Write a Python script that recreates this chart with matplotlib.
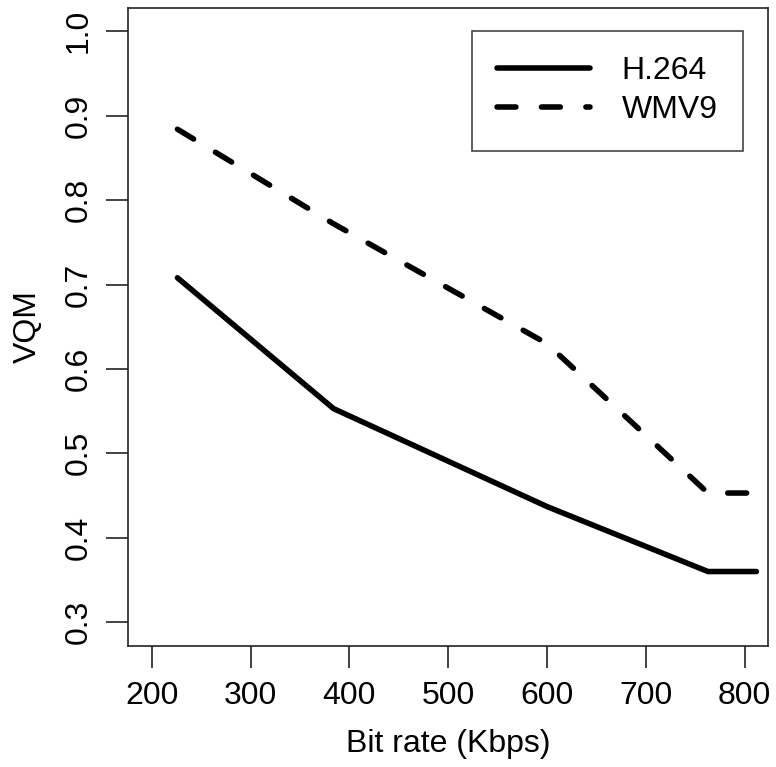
import matplotlib
matplotlib.use("Agg")
import matplotlib.pyplot as plt

# values
rates = [226, 384, 600, 763, 812]
vqm_h264 = [0.708, 0.553, 0.437, 0.360, 0.360]
vqm_wmv9 = [0.884, 0.772, 0.630, 0.453, 0.453]
series_names = ["H.264", "WMV9"]
x_ticks = [200, 300, 400, 500, 600, 700, 800]
y_ticks = [0.3, 0.4, 0.5, 0.6, 0.7, 0.8, 0.9, 1.0]

plt.rcParams["font.family"] = ["Liberation Sans", "DejaVu Sans"]
fs = 23

fig = plt.figure(figsize=(7.76, 7.67), dpi=100)
ax = fig.add_axes([0.165, 0.158, 0.825, 0.832])

ax.plot(rates, vqm_h264, color="black", linewidth=4.0, solid_capstyle="round",
        solid_joinstyle="round", label=series_names[0])
ax.plot(rates, vqm_wmv9, color="black", linewidth=4.0, linestyle=(0, (3.4, 4.6)),
        dash_capstyle="round", label=series_names[1])

# R style axes: 4% padding around the ticks range
ax.set_xlim(200 - 0.04 * 600, 800 + 0.04 * 600)
ax.set_ylim(0.3 - 0.04 * 0.7, 1.0 + 0.04 * 0.7)
ax.set_xticks(x_ticks)
ax.set_yticks(y_ticks)
ax.set_yticklabels([f"{v:.1f}" for v in y_ticks], rotation=90, va="center")

for s in ax.spines.values():
    s.set_linewidth(1.2)
    s.set_color("#222222")
ax.tick_params(length=16, width=1.2, color="#222222", labelsize=fs, pad=9)

ax.set_xlabel("Bit rate (Kbps)", fontsize=fs, labelpad=13)
ax.set_ylabel("VQM", fontsize=fs, labelpad=15)

leg = ax.legend(loc="upper right", bbox_to_anchor=(0.961, 0.964), borderaxespad=0,
                fontsize=fs, handlelength=2.9, handletextpad=1.0, labelspacing=0.28,
                borderpad=0.8, fancybox=False, framealpha=1)
leg.get_frame().set_edgecolor("#444444")
leg.get_frame().set_linewidth(1.2)

fig.savefig("out.png", dpi=100)
